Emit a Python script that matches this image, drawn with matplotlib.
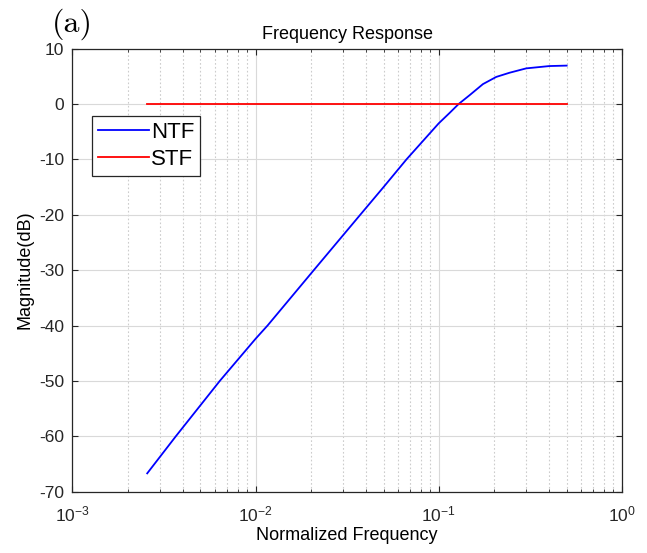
import matplotlib
matplotlib.use("Agg")
import matplotlib.pyplot as plt
from matplotlib.ticker import LogLocator, NullFormatter, FixedLocator

plt.rcParams['font.family'] = ['Liberation Sans', 'DejaVu Sans']
plt.rcParams['mathtext.default'] = 'regular'
plt.rcParams['axes.unicode_minus'] = False

# values
ntf_freq = [0.00256, 0.00367, 0.00638, 0.0100, 0.01163, 0.0208, 0.0373,
            0.0500, 0.0667, 0.1000, 0.1148, 0.1285, 0.1476, 0.1745,
            0.2064, 0.2437, 0.3006, 0.4027, 0.5000]
ntf_db = [-66.7, -60.0, -50.0, -42.4, -40.0, -30.0, -20.0,
          -15.0, -10.0, -3.5, -1.6, 0.0, 1.6, 3.6,
          4.9, 5.65, 6.44, 6.86, 6.94]
stf_freq = [0.00256, 0.5]
stf_db = [0.0, 0.0]

fig = plt.figure(figsize=(6.47, 5.53), dpi=100)
ax = fig.add_axes([0.112, 0.111, 0.849, 0.801])

ax.semilogx(ntf_freq, ntf_db, color='#0000ff', lw=1.3, label='NTF')
ax.semilogx(stf_freq, stf_db, color='#ff0000', lw=1.3, label='STF')

ax.set_xlim(1e-3, 1)
ax.set_ylim(-70, 10)
ax.yaxis.set_major_locator(FixedLocator(range(-70, 11, 10)))
ax.xaxis.set_major_locator(LogLocator(base=10, numticks=10))
ax.xaxis.set_minor_locator(LogLocator(base=10, subs=range(2, 10), numticks=20))
ax.xaxis.set_minor_formatter(NullFormatter())

ax.grid(True, which='major', color='#d9d9d9', lw=0.8, ls='-')
ax.grid(True, which='minor', axis='x', color='#cccccc', lw=0.8, ls=(0, (1.5, 2)))
ax.set_axisbelow(True)

ax.tick_params(which='both', direction='in', top=True, right=True,
               labelsize=12.5, colors='#262626')
ax.tick_params(which='major', length=4)
ax.tick_params(which='minor', length=2)
ax.tick_params(axis='x', which='major', pad=9)
ax.tick_params(axis='y', pad=6)
for s in ax.spines.values():
    s.set_color('#262626')
    s.set_linewidth(0.9)

ax.set_title('Frequency Response', fontsize=13, pad=7)
ax.set_xlabel('Normalized Frequency', fontsize=13, labelpad=2)
ax.set_ylabel('Magnitude(dB)', fontsize=13, labelpad=4)

leg = ax.legend(loc='upper left', bbox_to_anchor=(0.036, 0.848),
                borderaxespad=0, fancybox=False, framealpha=1,
                edgecolor='#262626', fontsize=16, handlelength=2.3,
                handletextpad=0.1, labelspacing=0.3, borderpad=0.25)
leg.get_frame().set_linewidth(0.9)

fig.text(0.08, 0.943, '(a)', fontsize=23, family='cmr10', va='baseline')

fig.savefig('out.png', dpi=100)
